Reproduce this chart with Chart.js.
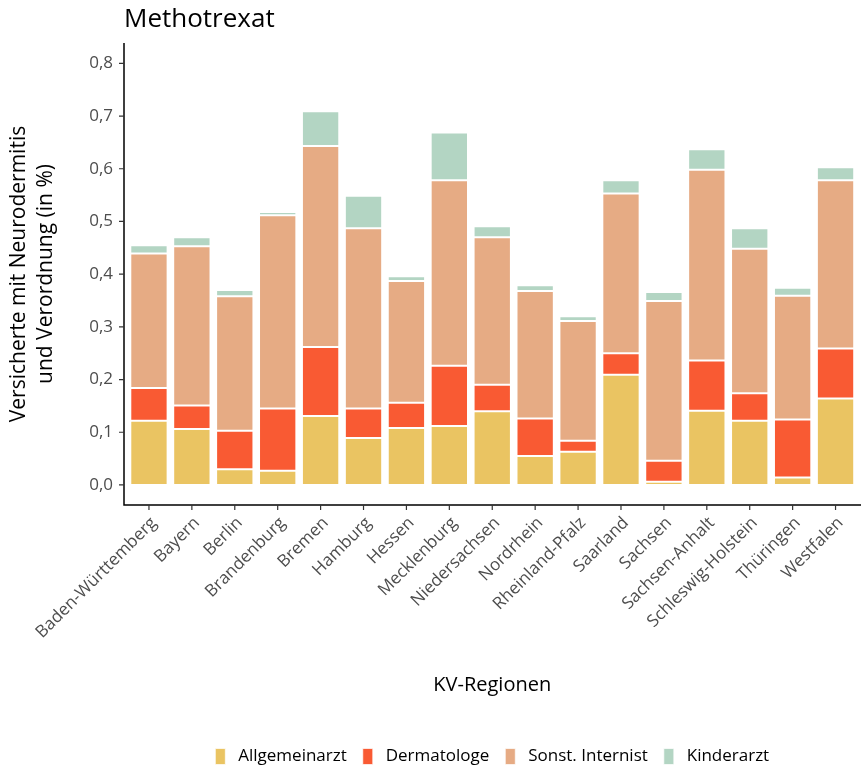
<!DOCTYPE html>
<html>
<head>
<meta charset="utf-8">
<script src="https://cdn.jsdelivr.net/npm/chart.js@4.4.1/dist/chart.umd.min.js"></script>
<style>
html, body { margin: 0; padding: 0; background: #fff; }
</style>
</head>
<body>
<canvas id="chart" width="861" height="769"></canvas>
<script>
// KV-Regionen
var regionen = ['Baden-Württemberg', 'Bayern', 'Berlin', 'Brandenburg', 'Bremen', 'Hamburg', 'Hessen',
	'Mecklenburg', 'Niedersachsen', 'Nordrhein', 'Rheinland-Pfalz', 'Saarland', 'Sachsen',
	'Sachsen-Anhalt', 'Schleswig-Holstein', 'Thüringen', 'Westfalen'];

// Anteile je Fachgruppe (in %)
var allgemeinarzt = [0.122, 0.106, 0.030, 0.027, 0.131, 0.089, 0.108, 0.112, 0.140, 0.055, 0.063, 0.209, 0.006, 0.141, 0.122, 0.014, 0.164];
var dermatologe   = [0.062, 0.045, 0.073, 0.118, 0.131, 0.056, 0.048, 0.114, 0.050, 0.071, 0.021, 0.041, 0.040, 0.095, 0.052, 0.110, 0.095];
var internist     = [0.255, 0.302, 0.255, 0.367, 0.381, 0.342, 0.231, 0.352, 0.280, 0.242, 0.227, 0.303, 0.303, 0.362, 0.274, 0.235, 0.319];
var kinderarzt    = [0.016, 0.017, 0.012, 0.006, 0.066, 0.062, 0.009, 0.091, 0.021, 0.011, 0.009, 0.025, 0.017, 0.039, 0.039, 0.015, 0.025];

var yTicks = [0, 0.1, 0.2, 0.3, 0.4, 0.5, 0.6, 0.7, 0.8];

Chart.defaults.font.family = '"Open Sans", sans-serif';

// Achsenlinien, Striche und Titel wie im ggplot
var achsenPlugin = {
	id: 'achsen',
	afterDraw: function(chart) {
		var ctx = chart.ctx;
		var area = chart.chartArea;
		var xs = chart.scales.x, ys = chart.scales.y;
		var links = area.left - 3.5;
		var rechts = area.right + 4;
		var unten = area.bottom;
		ctx.save();
		ctx.strokeStyle = '#000';
		ctx.lineWidth = 1.5;
		ctx.beginPath();
		ctx.moveTo(links, area.top);
		ctx.lineTo(links, unten);
		ctx.lineTo(rechts, unten);
		ctx.stroke();
		ctx.strokeStyle = '#333';
		ctx.lineWidth = 1.2;
		ctx.beginPath();
		yTicks.forEach(function(v) {
			var py = ys.getPixelForValue(v);
			ctx.moveTo(links - 5, py);
			ctx.lineTo(links, py);
		});
		regionen.forEach(function(r, i) {
			var px = xs.getPixelForTick(i);
			ctx.moveTo(px, unten);
			ctx.lineTo(px, unten + 5);
		});
		ctx.stroke();
		ctx.fillStyle = '#000';
		ctx.font = '26px "Open Sans"';
		ctx.textBaseline = 'alphabetic';
		ctx.fillText('Methotrexat', links, 27);
		ctx.restore();
	}
};

function serie(label, data, farbe) {
	return {
		label: label,
		data: data,
		backgroundColor: farbe,
		borderColor: 'rgba(255,255,255,0.7)',
		borderWidth: 1,
		borderSkipped: false,
		barPercentage: 0.87,
		categoryPercentage: 1
	};
}

var canvas = document.getElementById('chart');
var chart = new Chart(canvas, {
	type: 'bar',
	data: {
		labels: regionen,
		datasets: [
			serie('Allgemeinarzt', allgemeinarzt, '#EAC462'),
			serie('Dermatologe', dermatologe, '#F95A33'),
			serie('Sonst. Internist', internist, '#E6AB84'),
			serie('Kinderarzt', kinderarzt, '#B3D5C3')
		]
	},
	options: {
		responsive: false,
		animation: false,
		layout: { padding: { top: 43, right: 4, bottom: -6, left: 0 } },
		plugins: {
			tooltip: { enabled: false },
			title: { display: false },
			legend: {
				position: 'bottom',
				fullSize: false,
				labels: {
					boxWidth: 10,
					boxHeight: 16,
					padding: 16,
					color: '#000',
					font: { size: 17 },
					generateLabels: function(c) {
						var items = Chart.defaults.plugins.legend.labels.generateLabels(c);
						items.forEach(function(it) { it.text = ' ' + it.text; });
						return items;
					}
				}
			}
		},
		scales: {
			x: {
				stacked: true,
				offset: true,
				grid: { display: false, drawTicks: false },
				border: { display: false },
				ticks: {
					autoSkip: false,
					minRotation: 45,
					maxRotation: 45,
					padding: 8,
					labelOffset: 5,
					color: '#4d4d4d',
					font: { size: 17 }
				},
				title: {
					display: true,
					text: 'KV-Regionen',
					color: '#000',
					font: { size: 20 },
					padding: { top: 0, bottom: 35 }
				},
				afterFit: function(s) { s.height = 227; }
			},
			y: {
				stacked: true,
				min: -0.038,
				max: 0.8386,
				grid: { display: false, drawTicks: false },
				border: { display: false },
				ticks: {
					stepSize: 0.1,
					includeBounds: false,
					padding: 14.5,
					color: '#4d4d4d',
					font: { size: 17 },
					callback: function(v) {
						if (v < -0.0001) return '';
						return v.toFixed(1).replace('.', ',');
					}
				},
				title: {
					display: true,
					text: ['Versicherte mit Neurodermitis', 'und Verordnung (in %)'],
					color: '#000',
					font: { size: 21, lineHeight: 1.3 },
					padding: { top: 5 }
				},
				afterFit: function(s) { s.width = 127.5; }
			}
		}
	},
	plugins: [achsenPlugin]
});
</script>
</body>
</html>
